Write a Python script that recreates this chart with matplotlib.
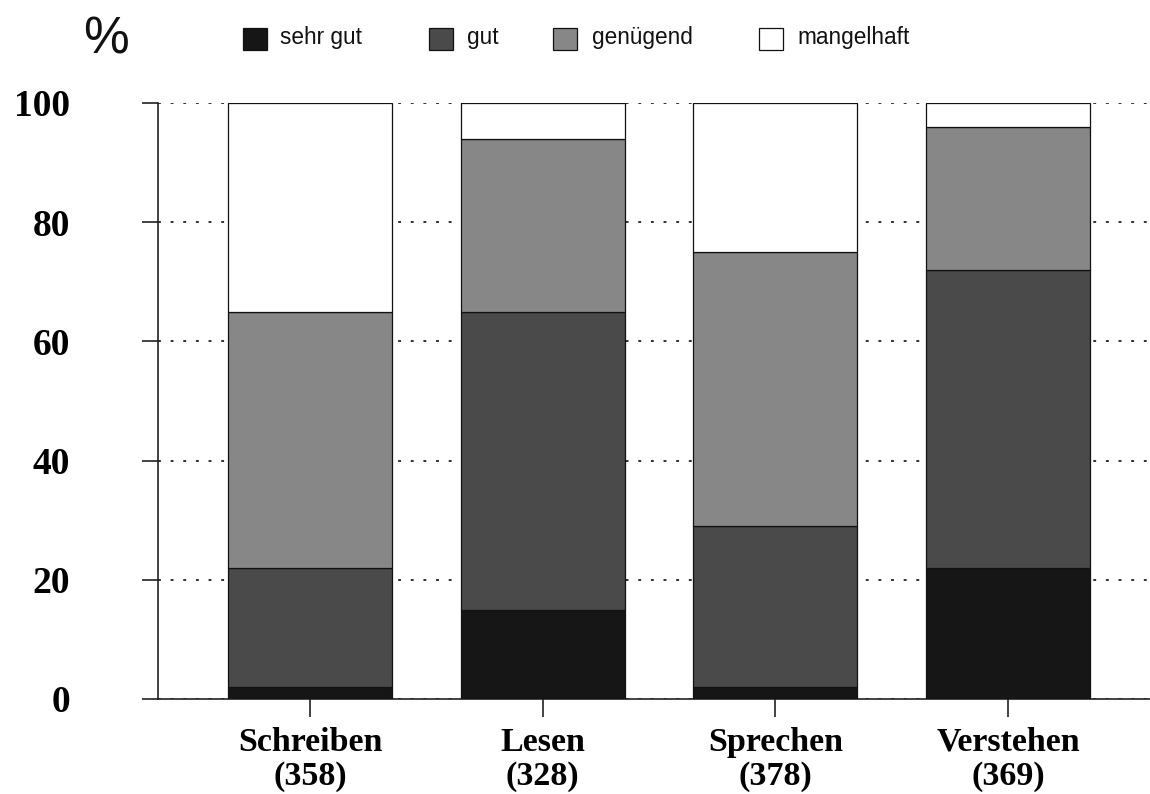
import matplotlib
matplotlib.use("Agg")
import matplotlib.pyplot as plt
import numpy as np

categories = ["Schreiben\n(358)", "Lesen\n(328)", "Sprechen\n(378)", "Verstehen\n(369)"]
series_names = ["sehr gut", "gut", "genügend", "mangelhaft"]
sehr_gut = [2, 15, 2, 22]
gut = [20, 50, 27, 50]
genuegend = [43, 29, 46, 24]
mangelhaft = [35, 6, 25, 4]
y_ticks = [0, 20, 40, 60, 80, 100]

colors = ["#161616", "#4a4a4a", "#878787", "#ffffff"]

W, H = 1150, 794
fig = plt.figure(figsize=(W / 100, H / 100), dpi=100)
ax = fig.add_axes([158 / W, 1 - 699 / H, 1 - 158 / W, (699 - 103) / H])

x = np.arange(len(categories))
bottom = np.zeros(len(categories))
for vals, col in zip([sehr_gut, gut, genuegend, mangelhaft], colors):
    ax.bar(x, vals, width=0.705, bottom=bottom, color=col, edgecolor="#111111",
           linewidth=0.9, zorder=3)
    bottom += np.array(vals)

ax.set_xlim(-0.653, 3.61)
ax.set_ylim(0, 100)
ax.set_yticks(y_ticks)
ax.set_yticklabels([str(t) for t in y_ticks], fontfamily="Liberation Serif",
                   fontweight="bold", fontsize=27)
ax.set_xticks(x)
ax.set_xticklabels(categories, fontfamily="Liberation Serif", fontweight="bold",
                   fontsize=24.5, linespacing=1.14)
ax.tick_params(axis="y", direction="out", length=11.5, width=1.2, pad=52, color="#222222")
ax.tick_params(axis="x", direction="out", length=13, width=1.2, pad=7, color="#222222")

for s in ["top", "right"]:
    ax.spines[s].set_visible(False)
for s in ["left", "bottom"]:
    ax.spines[s].set_linewidth(1.2)
    ax.spines[s].set_color("#222222")

ax.yaxis.grid(True, linestyle=(0, (1.6, 5.4)), linewidth=1.3, color="#222222", zorder=0)
ax.set_axisbelow(True)

fig.text(106 / W, 1 - 54 / H, "%", fontsize=37, fontfamily="Liberation Sans",
         ha="center", va="baseline", color="#111111")

box_x = [243, 429, 553, 759]
text_x = [280, 467, 592, 797]
for bx, tx, c, name in zip(box_x, text_x, colors, series_names):
    fig.patches.append(plt.Rectangle((bx / W, 1 - 50 / H), 24 / W, 22 / H,
                                     transform=fig.transFigure, facecolor=c,
                                     edgecolor="#111111", linewidth=0.9))
    fig.text(tx / W, 1 - 44 / H, name, fontsize=16.3, fontfamily="Liberation Sans",
             ha="left", va="baseline", color="#111111")

fig.savefig("out.png", dpi=100)
